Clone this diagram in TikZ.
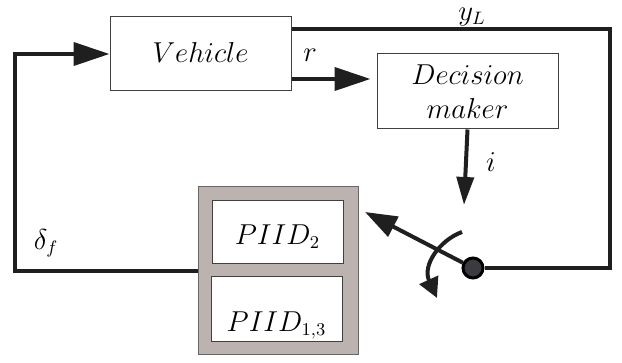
\documentclass[tikz,border=0pt]{standalone}
\usepackage{amsmath}
\usepackage{amssymb}
\usepackage[dvipsnames]{xcolor}
\usetikzlibrary{calc,arrows.meta,positioning}
\definecolor{boxgray}{RGB}{188,178,176}
\definecolor{pivotgray}{RGB}{58,58,64}
\tikzset{
  wire/.style={line width=2pt, black!88},
  bigtip/.style={-{Triangle[length=18pt,width=11.5pt]}},
  blk/.style={draw=black!75, line width=0.5pt, fill=white, inner sep=0pt,
    font=\fontsize{13.5}{16}\selectfont},
  lbl/.style={inner sep=1pt, font=\fontsize{13.5}{16}\selectfont}
}
\begin{document}
\begin{tikzpicture}[x=0.5pt,y=-0.5pt]
        \useasboundingbox (0,0) rectangle (622,363);
        % blocks
        \node[blk, minimum width=90.5pt, minimum height=37pt, text height=12pt, text depth=3pt] (veh) at (200.5,54) {$Vehicle$};
        \node[blk, minimum width=90.5pt, minimum height=37.5pt, align=center] (dec) at (467.5,91.5) {$Decision$\\[1pt]$maker$};
        \node[blk, fill=boxgray, draw=black!60, minimum width=80pt, minimum height=84pt] (ctrl) at (278,271) {};
        \node[blk, minimum width=65.5pt, minimum height=31.5pt, text height=15pt, text depth=3pt] (pid2) at (277.5,232.5) {$PIID_2$};
        \node[blk, minimum width=65.5pt, minimum height=32.5pt, text height=25pt, text depth=3pt] (pid13) at (276.5,309.5) {$PIID_{1,3}$};
        \node[circle, draw=black, line width=1.5pt, fill=pivotgray, minimum size=10pt, inner sep=0pt] (piv) at (473,268) {};
        % free ends
        \coordinate (ne) at (610,29);
        \coordinate (sw) at (15,271);
        \coordinate (itip) at (464,205);
        \coordinate (swtip) at (365,212);
        \coordinate (rotA) at (462,232);
        \coordinate (rotB) at (437,298);
        % signals
        \draw[wire] (veh.east |- ne) -- (ne) |- (piv);
        \draw[wire, bigtip] (ctrl.west) -- (sw) |- (veh.west);
        \draw[wire, bigtip, shorten >=3pt] (veh.east |- 0,79) -- (dec.west |- 0,79);
        \draw[wire, -{Triangle[length=14pt,width=8.5pt]}] (dec.south) -- (itip);
        \draw[wire, -{Triangle[length=16pt,width=11pt]}] (piv) -- (swtip);
        \draw[wire, -{Triangle[length=10pt,width=10pt]}] (rotA) .. controls (440,240) and (422,265) .. (rotB);
        % labels
        \node[lbl] (rlab) at (310,55) {$r$};
        \node[lbl, anchor=base] (ylab) at (472,20.5) {$y_L$};
        \node[lbl] (ilab) at (491,162) {$i$};
        \node[lbl] (dlab) at (46,243) {$\delta_f$};
\end{tikzpicture}
\end{document}
